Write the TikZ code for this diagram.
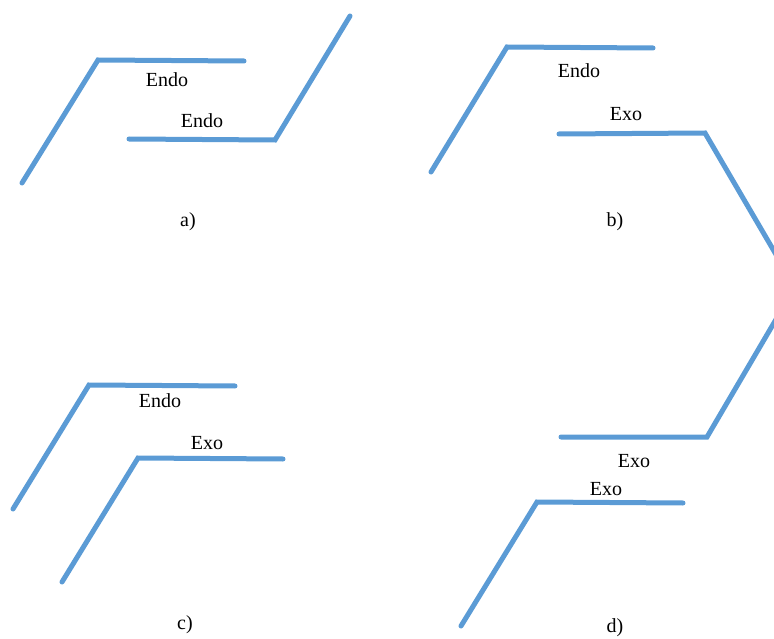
\documentclass[tikz,border=0pt]{standalone}
\usepackage{fontspec}
\setmainfont{Liberation Serif}
\definecolor{lineblue}{RGB}{91,155,213}
\begin{document}
\begin{tikzpicture}[x=1pt,y=-1pt,
  bond/.style={draw=lineblue,line width=5pt,line cap=round,line join=miter},
  lbl/.style={inner sep=0pt,font=\fontsize{20}{22}\selectfont}]
\useasboundingbox (0,0) rectangle (774,639);
\clip (0,0) rectangle (774,639);
% a)
\coordinate (a1s) at (22,183); \coordinate (a1c) at (98,60); \coordinate (a1e) at (244,61);
\coordinate (a2s) at (129,139); \coordinate (a2c) at (275,140); \coordinate (a2e) at (350,16);
\draw[bond] (a1s) -- (a1c) -- (a1e);
\draw[bond] (a2s) -- (a2c) -- (a2e);
\node[lbl] (aEndo1) at (167,80) {Endo};
\node[lbl] (aEndo2) at (202,121) {Endo};
\node[lbl] (acap) at (188,222) {a)};
% b)
\coordinate (b1s) at (431,172); \coordinate (b1c) at (507,47); \coordinate (b1e) at (653,48);
\coordinate (b2s) at (559,134); \coordinate (b2c) at (705,133); \coordinate (bpk) at (795,287);
\coordinate (d1c) at (707,437); \coordinate (d1e) at (561,437);
\draw[bond] (b1s) -- (b1c) -- (b1e);
\draw[bond] (b2s) -- (b2c) -- (bpk) -- (d1c) -- (d1e);
\node[lbl] (bEndo) at (579,71) {Endo};
\node[lbl] (bExo) at (626,114) {Exo};
\node[lbl] (bcap) at (615,222) {b)};
% c)
\coordinate (c1s) at (13,509); \coordinate (c1c) at (89,385); \coordinate (c1e) at (235,386);
\coordinate (c2s) at (62,582); \coordinate (c2c) at (138,458); \coordinate (c2e) at (283,459);
\draw[bond] (c1s) -- (c1c) -- (c1e);
\draw[bond] (c2s) -- (c2c) -- (c2e);
\node[lbl] (cEndo) at (160,401) {Endo};
\node[lbl] (cExo) at (207,443) {Exo};
\node[lbl] (ccap) at (185,625) {c)};
% d)
\coordinate (d2s) at (461,626); \coordinate (d2c) at (537,502); \coordinate (d2e) at (683,503);
\draw[bond] (d2s) -- (d2c) -- (d2e);
\node[lbl] (dExo1) at (634,461) {Exo};
\node[lbl] (dExo2) at (606,489) {Exo};
\node[lbl] (dcap) at (615,628) {d)};
\end{tikzpicture}
\end{document}
